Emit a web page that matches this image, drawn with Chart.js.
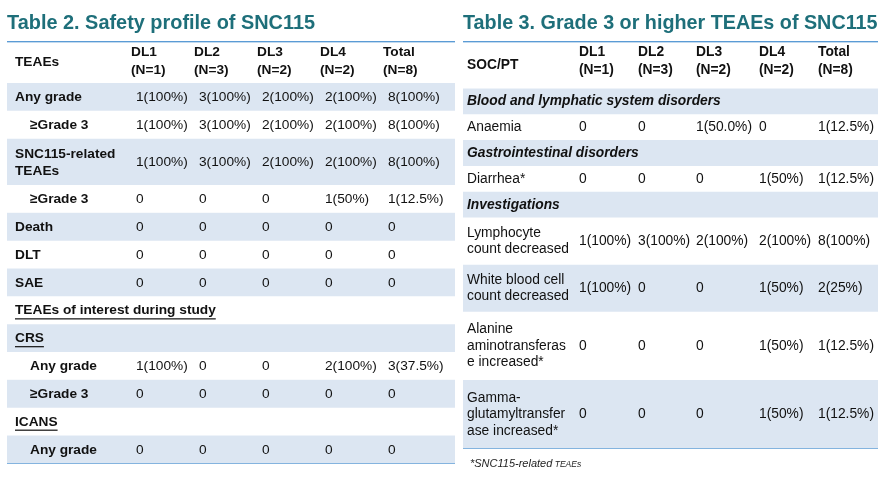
<!DOCTYPE html>
<html>
<head>
<meta charset="utf-8">
<script src="https://cdn.jsdelivr.net/npm/chart.js@4.4.1/dist/chart.umd.min.js"></script>
<style>
  html, body { margin: 0; padding: 0; background: #fff; }
  #wrap { position: relative; width: 886px; height: 480px; }
  #t2 { position: absolute; left: 0; top: 0; width: 460px; height: 480px; }
  #t3 { position: absolute; left: 460px; top: 0; width: 426px; height: 480px; }
</style>
</head>
<body>
<div id="wrap">
  <canvas id="t2" width="460" height="480"></canvas>
  <canvas id="t3" width="426" height="480"></canvas>
</div>
<script>
// ---- Tabla 2: perfil de seguridad ----
const t2Title = 'Table 2. Safety profile of SNC115';
const t2Head = 'TEAEs';
const t2Groups = ['DL1\n(N=1)', 'DL2\n(N=3)', 'DL3\n(N=2)', 'DL4\n(N=2)', 'Total\n(N=8)'];
const t2Rows = ['Any grade', '≥Grade 3', 'SNC115-related\nTEAEs', '≥Grade 3', 'Death', 'DLT', 'SAE',
  'TEAEs of interest during study', 'CRS', 'Any grade', '≥Grade 3', 'ICANS', 'Any grade'];
const t2Indent = [0, 1, 0, 1, 0, 0, 0, 0, 0, 1, 1, 0, 1];
const t2Underline = [0, 0, 0, 0, 0, 0, 0, 1, 1, 0, 0, 1, 0];
const t2DL1 = ['1(100%)', '1(100%)', '1(100%)', '0', '0', '0', '0', '', '', '1(100%)', '0', '', '0'];
const t2DL2 = ['3(100%)', '3(100%)', '3(100%)', '0', '0', '0', '0', '', '', '0', '0', '', '0'];
const t2DL3 = ['2(100%)', '2(100%)', '2(100%)', '0', '0', '0', '0', '', '', '0', '0', '', '0'];
const t2DL4 = ['2(100%)', '2(100%)', '2(100%)', '1(50%)', '0', '0', '0', '', '', '2(100%)', '0', '', '0'];
const t2Total = ['8(100%)', '8(100%)', '8(100%)', '1(12.5%)', '0', '0', '0', '', '', '3(37.5%)', '0', '', '0'];

// ---- Tabla 3: TEAEs grado 3 o mayor ----
const t3Title = 'Table 3. Grade 3 or higher TEAEs of SNC115';
const t3Head = 'SOC/PT';
const t3Groups = ['DL1\n(N=1)', 'DL2\n(N=3)', 'DL3\n(N=2)', 'DL4\n(N=2)', 'Total\n(N=8)'];
const t3Rows = ['Blood and lymphatic system disorders', 'Anaemia', 'Gastrointestinal disorders', 'Diarrhea*',
  'Investigations', 'Lymphocyte\ncount decreased', 'White blood cell\ncount decreased',
  'Alanine\naminotransferas\ne increased*', 'Gamma-\nglutamyltransfer\nase increased*'];
const t3Soc = [1, 0, 1, 0, 1, 0, 0, 0, 0];
const t3DL1 = ['', '0', '', '0', '', '1(100%)', '1(100%)', '0', '0'];
const t3DL2 = ['', '0', '', '0', '', '3(100%)', '0', '0', '0'];
const t3DL3 = ['', '1(50.0%)', '', '0', '', '2(100%)', '0', '0', '0'];
const t3DL4 = ['', '0', '', '1(50%)', '', '2(100%)', '1(50%)', '1(50%)', '1(50%)'];
const t3Total = ['', '1(12.5%)', '', '1(12.5%)', '', '8(100%)', '2(25%)', '1(12.5%)', '1(12.5%)'];
const t3Note = ['*SNC115-related', ' TEAEs'];

const FONT = '"Liberation Sans", Arial, sans-serif';
const INK = '#111111';
const TEAL = '#1e6f7a';
const STRIPE = '#dce6f2';
const RULE = '#5b9bd5';

function rowUnits(label, pad) {
    return label.split('\n').length + pad;
}

// plugin que escribe el texto de cada celda usando la escala y
function cellText(spec) {
    return {
        id: 'cellText',
        afterDatasetsDraw(chart) {
            const ctx = chart.ctx;
            const a = chart.chartArea;
            const y = chart.scales.y;
            ctx.save();
            ctx.textBaseline = 'middle';
            ctx.textAlign = 'left';
            ctx.fillStyle = INK;

            const hMid = y.getPixelForValue(spec.headUnits / 2);
            ctx.font = `bold ${spec.fs}px ${FONT}`;
            ctx.fillText(spec.head, a.left + spec.labelX, hMid);
            spec.groups.forEach((g, j) => {
                const lines = g.split('\n');
                lines.forEach((ln, k) => {
                    ctx.fillText(ln, a.left + spec.headX[j],
                        hMid + spec.headShift + (k - (lines.length - 1) / 2) * spec.headLH);
                });
            });

            let start = spec.headUnits;
            spec.rows.forEach((label, i) => {
                const u = rowUnits(label, spec.pad);
                const mid = y.getPixelForValue(start + u / 2) + spec.textShift;
                const lines = label.split('\n');
                ctx.font = spec.labelFont(i);
                const lx = a.left + spec.labelX + (spec.indent ? spec.indent[i] * spec.indentW : 0);
                lines.forEach((ln, k) => {
                    const ly = mid + (k - (lines.length - 1) / 2) * spec.lineH;
                    ctx.fillText(ln, lx, ly);
                    if (spec.underline && spec.underline[i]) {
                        const w = ctx.measureText(ln).width;
                        ctx.fillRect(lx, ly + spec.fs * 0.55, w, 1.2);
                    }
                });
                ctx.font = `${spec.fs}px ${FONT}`;
                spec.values.forEach((col, j) => {
                    if (col[i]) ctx.fillText(col[i], a.left + spec.valX[j], mid);
                });
                start += u;
            });

            if (spec.note) {
                // nota al pie con la misma linea base
                const ny = a.bottom + 18.5;
                let nx = a.left + 7;
                ctx.textBaseline = 'alphabetic';
                ctx.fillStyle = '#222';
                ctx.font = `italic 11px ${FONT}`;
                ctx.fillText(spec.note[0], nx, ny);
                nx += ctx.measureText(spec.note[0]).width;
                ctx.font = `italic 8.5px ${FONT}`;
                ctx.fillText(spec.note[1], nx, ny);
            }
            ctx.restore();
        }
    };
}

function crearTabla(id, title, titleSize, spec, pad) {
    const headUnits = spec.headUnits;
    const units = spec.rows.map(r => rowUnits(r, spec.pad));
    const total = headUnits + units.reduce((s, v) => s + v, 0);

    const datasets = [{ data: [headUnits], backgroundColor: '#ffffff' }].concat(
        units.map((u, i) => ({ data: [u], backgroundColor: i % 2 === 0 ? STRIPE : '#ffffff' }))
    );

    return new Chart(document.getElementById(id).getContext('2d'), {
        type: 'bar',
        data: { labels: [''], datasets: datasets },
        options: {
            responsive: false,
            animation: false,
            events: [],
            datasets: { bar: { barPercentage: 1, categoryPercentage: 1, borderWidth: 0 } },
            layout: { padding: pad },
            plugins: {
                legend: { display: false },
                tooltip: { enabled: false },
                title: {
                    display: true,
                    text: title,
                    align: 'start',
                    color: TEAL,
                    font: { family: FONT, size: titleSize, weight: 'bold', lineHeight: 1.2 },
                    padding: { top: 12, bottom: 42 - 12 - titleSize * 1.2 }
                }
            },
            scales: {
                x: { stacked: true, display: false },
                y: {
                    stacked: true,
                    reverse: true,
                    min: 0,
                    max: total,
                    z: 1,
                    afterBuildTicks: axis => { axis.ticks = [0, headUnits, total].map(v => ({ value: v })); },
                    ticks: { display: false },
                    grid: { drawTicks: false, color: RULE, lineWidth: 1.8 },
                    border: { display: false }
                }
            }
        },
        plugins: [cellText(spec)]
    });
}

document.addEventListener('DOMContentLoaded', () => {
    crearTabla('t2', t2Title, 19.9, {
        head: t2Head, groups: t2Groups, rows: t2Rows,
        values: [t2DL1, t2DL2, t2DL3, t2DL4, t2Total],
        indent: t2Indent, underline: t2Underline, indentW: 15,
        headUnits: 2.19, pad: 0.5,
        fs: 13.7, lineH: 17, headLH: 17.7, headShift: -1.3, textShift: 0.8,
        labelX: 8, headX: [124, 187, 250, 313, 376], valX: [129, 192, 255, 318, 381],
        labelFont: () => `bold 13.7px ${FONT}`
    }, { left: 7, right: 5, top: 0, bottom: 17 });

    crearTabla('t3', t3Title, 19.75, {
        head: t3Head, groups: t3Groups, rows: t3Rows,
        values: [t3DL1, t3DL2, t3DL3, t3DL4, t3Total],
        headUnits: 2.17, pad: 0.217,
        fs: 13.8, lineH: 16.5, headLH: 17.7, headShift: -3.8, textShift: 0.5,
        labelX: 4, headX: [116, 175, 233, 296, 355], valX: [116, 175, 233, 296, 355],
        labelFont: i => t3Soc[i] ? `italic bold 13.8px ${FONT}` : `13.8px ${FONT}`,
        note: t3Note
    }, { left: 3, right: 8, top: 0, bottom: 32 });
});
</script>
</body>
</html>
